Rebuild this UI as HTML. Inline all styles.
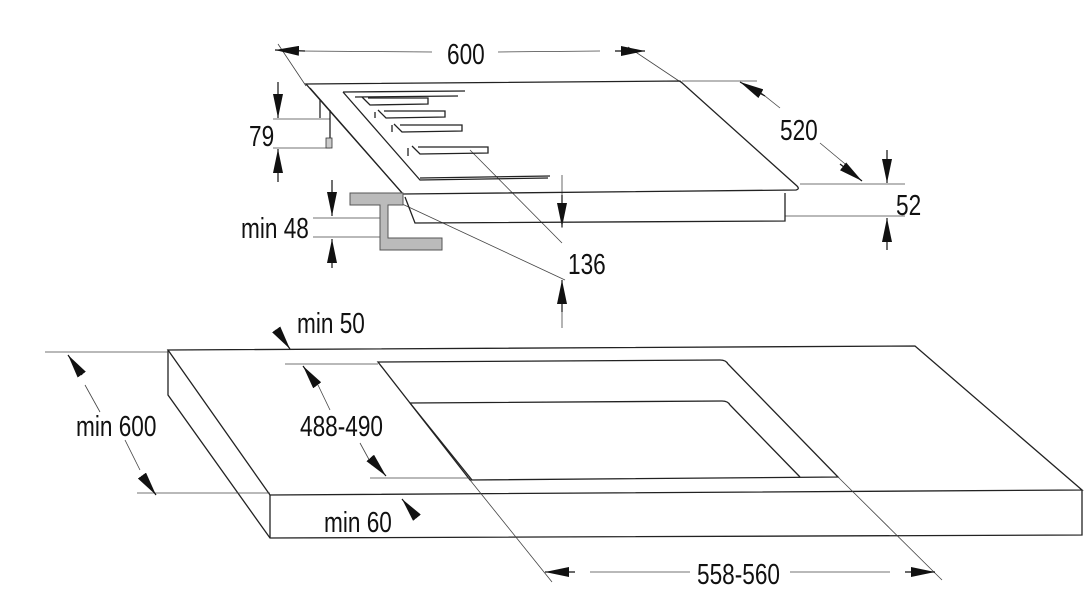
<!DOCTYPE html>
<html><head><meta charset="utf-8"><style>
html,body{margin:0;padding:0;background:#fff;}
svg{display:block;}
text{font-family:"Liberation Sans",sans-serif;font-size:29px;fill:#111;}
</style></head><body>
<svg width="1085" height="608" viewBox="0 0 1085 608" xmlns="http://www.w3.org/2000/svg">
<defs>
<marker id="a" viewBox="0 0 24 10" refX="24" refY="5" markerWidth="24" markerHeight="10" markerUnits="userSpaceOnUse" orient="auto"><path d="M0,0 L24,5 L0,10 z" fill="#111"/></marker>
</defs>
<g fill="none" stroke="#222" stroke-width="1.3">
<path d="M168,350 L915,346 L1082,490 L270,495 Z"/>
<path d="M168,350 L168,395 L270,538 L1082,535 L1082,490"/>
<path d="M270,495 L270,538"/>
<path d="M378,362 L720,360 Q726,360 728,364 L838,477 L470,480 Z"/>
<path d="M410,403 L722,401 Q728,401 730,405 L800,477"/>
<path d="M410,403 L472,480"/>
</g>
<g fill="none" stroke="#444" stroke-width="0.8">
<path d="M470,480 L552,582"/><path d="M838,477 L942,580"/>
<path d="M45,352 L168,352"/><path d="M137,493 L270,493"/>
<path d="M285,364 L378,364"/><path d="M370,478 L470,478"/>
<path d="M100,412 L85,385"/><path d="M125,440 L140,470"/>
<path d="M330,410 L318,385"/><path d="M360,443 L372,465"/>
<path d="M590,572 L690,572"/><path d="M790,572 L890,572"/>
<path d="M278,44 L306,86"/><path d="M628,47 L682,83"/>
<path d="M498,52 L600,51"/><path d="M300,51 L432,52"/>
<path d="M682,81 L757,81"/><path d="M760,92 L780,108"/><path d="M820,143 L850,168"/>
<path d="M273,119 L330,119"/><path d="M273,148 L330,148"/>
<path d="M313,218 L380,218"/><path d="M313,237 L380,237"/>
<path d="M800,184 L905,184"/><path d="M785,216 L905,216"/>
<path d="M400,203 L565,280"/><path d="M470,150 L562,243"/>
<path d="M562,175 L562,228"/><path d="M562,285 L562,328"/>
</g>
<g stroke="#111" stroke-width="1.2" marker-end="url(#a)">
<path d="M575,572 L545,572"/><path d="M905,572 L935,572"/>
<path d="M82,375 L68,355"/><path d="M143,477 L156,495"/>
<path d="M317,385 L303,366"/><path d="M372,460 L386,476"/>
<path d="M278,332 L290,349"/><path d="M414,514 L402,499"/>
<path d="M305,51 L275,50"/><path d="M615,51 L645,51"/>
<path d="M765,96 L740,82"/><path d="M840,164 L862,181"/>
<path d="M278,82 L278,118"/><path d="M278,182 L278,149"/>
<path d="M332,180 L332,216"/><path d="M332,268 L332,239"/>
<path d="M887,150 L887,183"/><path d="M887,250 L887,218"/>
<path d="M562,195 L562,227"/><path d="M562,312 L562,280"/>
</g>
<g fill="none" stroke="#222" stroke-width="1.3">
<path d="M306,84 L680,81 L797,186 Q800,189 796,190 L403,194 Z"/>
<path d="M310,88 L403,194"/>
<path d="M405,197 L415,223 L785,221 L785,193"/>
<path d="M320,100 L320,118"/><path d="M330,110 L330,148"/>
<path d="M343,92 L465,91"/><path d="M343,92 L420,180 L548,178"/>
<path d="M355,97 L458,96"/>
<path d="M420,178 L550,176"/>
<path d="M362,97 L370,105 L428,104 L428,98 L368,98"/>
<path d="M378,110 L386,118 L445,117 L445,111 L384,111"/>
<path d="M394,124 L402,132 L462,131 L462,125 L400,125"/>
<path d="M412,146 L420,154 L488,153 L488,147 L418,147"/>
<path d="M375,112 L375,118"/><path d="M392,125 L392,132"/><path d="M408,148 L408,156"/>
</g>
<rect x="326" y="138" width="6" height="10" fill="#ccc" stroke="#333" stroke-width="0.8"/>
<path d="M350,193 L403,193 L403,205 L388,205 L388,238 L442,238 L442,250 L380,250 L380,205 L350,205 Z" fill="#bbb" stroke="#555" stroke-width="1"/>
<g>
<text transform="translate(447,64) scale(0.78,1)">600</text>
<text transform="translate(780,140) scale(0.78,1)">520</text>
<text transform="translate(249,146) scale(0.78,1)">79</text>
<text transform="translate(241,238) scale(0.78,1)">min 48</text>
<text transform="translate(896,215) scale(0.78,1)">52</text>
<text transform="translate(568,274) scale(0.78,1)">136</text>
<text transform="translate(297,333) scale(0.78,1)">min 50</text>
<text transform="translate(76,436) scale(0.78,1)">min 600</text>
<text transform="translate(300,436) scale(0.78,1)">488-490</text>
<text transform="translate(324,532) scale(0.78,1)">min 60</text>
<text transform="translate(697,584) scale(0.78,1)">558-560</text>
</g>
</svg>
</body></html>
